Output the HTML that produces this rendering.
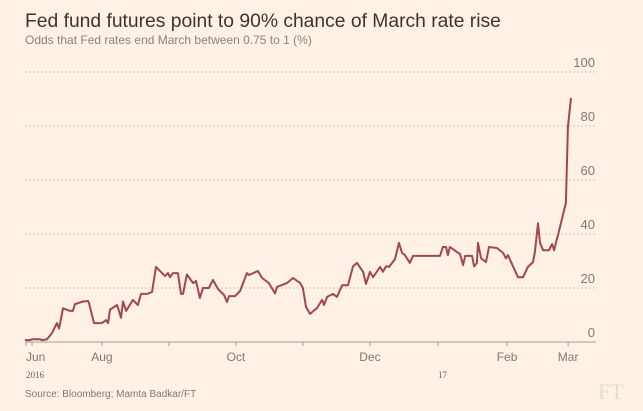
<!DOCTYPE html>
<html><head><meta charset="utf-8"><style>
body{margin:0;background:#fff1e5;}
svg{display:block;font-family:"Liberation Sans",sans-serif;}
</style></head><body>
<svg id="chart" width="643" height="411" viewBox="0 0 643 411">
<rect width="643" height="411" fill="#fff1e5"/>
<text x="25" y="27" font-size="19.3" fill="#3a3532">Fed fund futures point to 90% chance of March rate rise</text>
<text x="25" y="44" font-size="12" fill="#8a837d">Odds that Fed rates end March between 0.75 to 1 (%)</text>
<g id="grid"></g>
<g id="yticks"></g>
<g id="xaxis"></g>
<path id="line" fill="none" stroke="#a2464f" stroke-width="2" stroke-linejoin="round"/>
<text x="25" y="397" font-size="10" fill="#807973">Source: Bloomberg; Mamta Badkar/FT</text>
<text x="598" y="399" font-size="22" fill="#e8dccf" font-family="Liberation Serif,serif">FT</text>
</svg>
<script>
const days=[25.5,27.8,28.7,32.3,33.2,35.5,37.8,40,41,42.8,46,47.3,48.2,51.9,54.2,54.6,56.9,60.5,62.4,63.3,64.2,67.4,69.2,70.1,71.5,74.6,76.9,78.3,81,83.3,85.1,89.2,90.6,91.5,92.8,95.1,96.5,97.4,99.2,102,103.3,105.1,106.5,109.2,111,113.4,116.1,117.4,118.4,121.1,123.4,126.5,127.4,131.5,133.4,136.5,139.3,140.2,144.7,147.5,150.7,152,153.4,155.2,158.4,160.7,161.6,163,165.7,167.5,169.8,172.5,174.8,176.6,179.4,180.7,182.5,183.9,187.1,188.4,189.8,191.2,193.9,195.7,197.1,198.4,200.7,202.1,214.4,215.7,217.1,218,218.9,222.1,223.5,224.9,225.8,229,229.9,231.2,231.7,233.1,235.3,236.7,240.3,243.1,244.4,245.3,249.9,252.2,254.4,256.7,257.6,259,259.9,261.3,264,265.4,266.3,267.7,268.1,271.7,272.6,274];
const values=[0.7,0.7,1,1,0.7,1,3.3,7,5,12.5,11.5,11.5,14,15,15.2,14.4,7,7,8.1,7,12,13.7,9,15,11.5,15.6,13.7,17.8,17.8,18.5,27.8,24.4,25.5,24,25.5,25.5,17.8,17.8,25,21.8,22.6,16.3,20,20,23,19.6,17.4,14.8,17,17,18.9,25.5,24.8,26.3,23.7,21.8,18,20.4,21.8,23.7,21.8,20,13,10.4,12.6,15.6,13.7,16.7,17.8,16.7,21,21,28,29.3,26,21.5,26,24,27.8,26,28,27.8,30.7,36.7,33,32.2,29.3,31.9,31.9,35.2,35.2,32.2,35.2,33.3,32.6,28.5,31.9,31.9,28,29.3,36.7,31,29.6,35.2,34.8,33,31,32.2,24,24,27.8,29.6,33.3,44,36.7,34,34,36.3,34,38.5,39.6,51.5,79.6,90.4];
const yTicks=[0,20,40,60,80,100];
const xTickDays=[28.7,60.5,91,121.5,152,182.5,213.5,244.9,272.7];
const xTickLabels=["Jun","Aug","","Oct","","Dec","","Feb","Mar"];
const yearDays=[28.7,213.5];
const yearLabels=["2016","17"];
const NS="http://www.w3.org/2000/svg";
const xs=d=>-31+d*2.197;
const ys=v=>342-v*2.7;
function mk(tag,attrs,parent,text){const e=document.createElementNS(NS,tag);for(const k in attrs)e.setAttribute(k,attrs[k]);if(text!==undefined)e.textContent=text;parent.appendChild(e);return e;}
const grid=document.getElementById('grid'),yt=document.getElementById('yticks'),xa=document.getElementById('xaxis');
yTicks.forEach(v=>{
 if(v>0){const l=mk('line',{x1:25,x2:596,y1:ys(v),y2:ys(v),stroke:'#cfc5b9','stroke-dasharray':'2,2'},grid);
 
 }
 const t=mk('text',{x:595,y:ys(v)-5,'font-size':13,fill:'#807973','text-anchor':'end'},yt,String(v));
 
 
});
const base=mk('line',{x1:25,x2:596,y1:342,y2:342,stroke:'#a59d95'},xa);


mk('line',{x1:26,x2:26,y1:342,y2:346,stroke:'#a59d95'},xa);
xTickDays.forEach((d,i)=>{
 const x=xs(d);
 const tk=mk('line',{x1:x,x2:x,y1:342,y2:346,stroke:'#a59d95'},xa);
 
 
 if(xTickLabels[i]){
  const t=mk('text',{x:i===0?26:x,y:361,'font-size':12,fill:'#807973','text-anchor':i===0?'start':'middle'},xa,xTickLabels[i]);
  
  
 }
});
yearDays.forEach((d,i)=>{
 const t=mk('text',{x:i===0?26:xs(d),y:378,'font-size':9,fill:'#66605c','font-family':'Liberation Serif,serif'},xa,yearLabels[i]);
 
 
});
document.getElementById('line').setAttribute('d',days.map((d,i)=>(i?'L':'M')+xs(d).toFixed(1)+','+ys(values[i]).toFixed(1)).join(''));
</script>
</body></html>
